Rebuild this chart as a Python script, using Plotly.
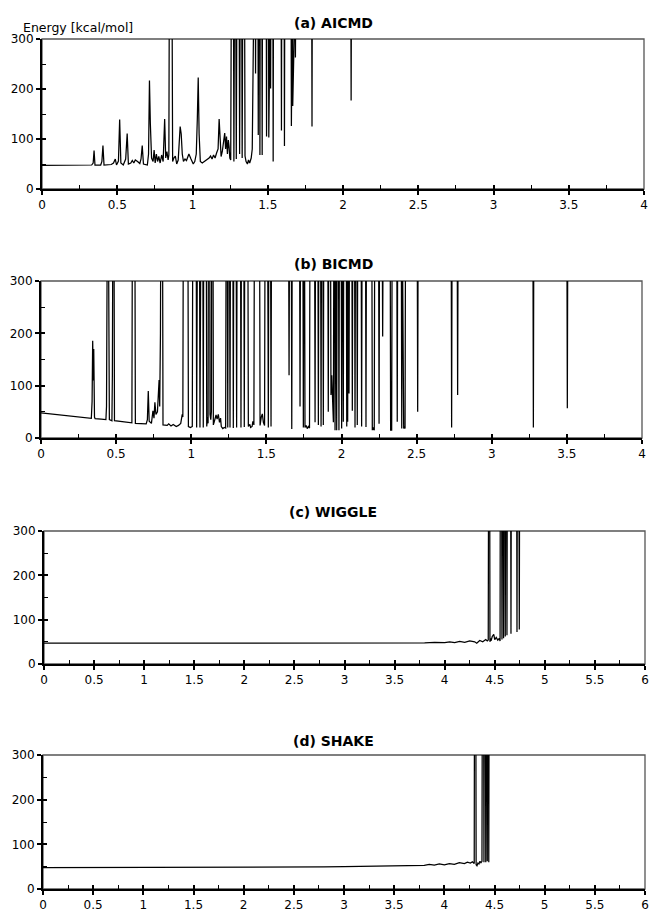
import plotly.graph_objects as go

# ---------------- data ----------------
# (a) AICMD : time [ps] vs energy [kcal/mol]; values above 300 run off the chart
a_time = [
    0, 0.30, 0.33, 0.340, 0.346, 0.352, 0.39, 0.398, 0.405, 0.412,
    0.46, 0.475, 0.487, 0.495, 0.508, 0.516, 0.524, 0.54, 0.556, 0.566,
    0.574, 0.59, 0.60, 0.61, 0.62, 0.635, 0.65, 0.658, 0.666, 0.674,
    0.70, 0.708, 0.714, 0.720, 0.728, 0.738, 0.745, 0.752, 0.760, 0.768,
    0.776, 0.785, 0.795, 0.805, 0.815, 0.822, 0.830, 0.838, 0.843, 0.846,
    0.864, 0.868, 0.876, 0.886, 0.895, 0.905, 0.912, 0.918, 0.925, 0.932,
    0.94, 0.95, 0.96, 0.968, 0.976, 0.99, 1.005, 1.015, 1.025, 1.032,
    1.038, 1.044, 1.052, 1.065, 1.08, 1.095, 1.11, 1.12, 1.13, 1.14,
    1.15, 1.16, 1.17, 1.177, 1.184, 1.19, 1.198, 1.206, 1.214, 1.22,
    1.226, 1.232, 1.238, 1.243, 1.248, 1.254, 1.258, 1.272, 1.275, 1.279,
    1.287, 1.291, 1.295, 1.31, 1.313, 1.317, 1.327, 1.330, 1.334, 1.346,
    1.349, 1.356, 1.365, 1.372, 1.38, 1.39, 1.397, 1.408, 1.417, 1.419,
    1.421, 1.435, 1.437, 1.439, 1.446, 1.448, 1.450, 1.461, 1.463, 1.465,
    1.490, 1.492, 1.494, 1.505, 1.507, 1.509, 1.517, 1.519, 1.521, 1.534,
    1.536, 1.538, 1.589, 1.591, 1.593, 1.609, 1.611, 1.613, 1.655, 1.657,
    1.659, 1.664, 1.666, 1.668, 1.682, 1.684, 1.686, 1.792, 1.794, 1.796,
    2.052, 2.054, 2.056,
]
a_energy = [
    47, 47, 48, 52, 77, 48, 48, 55, 87, 48,
    49, 52, 60, 48, 56, 139, 52, 48, 60, 111,
    50, 52, 57, 52, 58, 55, 51, 60, 87, 50,
    48, 70, 217, 130, 62, 55, 78, 52, 70, 55,
    65, 52, 68, 55, 140, 62, 75, 58, 68, 400,
    400, 55, 62, 66, 50, 58, 95, 125, 110, 70,
    55, 60, 57, 65, 70, 60, 50, 55, 70, 140,
    223, 110, 55, 52, 55, 58, 62, 66, 60, 68,
    62, 72, 80, 140, 85, 65, 75, 92, 112, 80,
    105, 70, 98, 85, 62, 58, 400, 400, 55, 400,
    400, 60, 400, 400, 70, 400, 400, 62, 400, 400,
    66, 55, 50, 58, 52, 62, 80, 400, 400, 231,
    400, 400, 108, 400, 400, 68, 400, 400, 68, 400,
    400, 105, 400, 400, 103, 400, 400, 201, 400, 400,
    55, 400, 400, 117, 400, 400, 86, 400, 400, 126,
    400, 400, 166, 400, 400, 263, 400, 400, 125, 400,
    400, 177, 400,
]

# (b) BICMD
b_time = [
    0, 0.10, 0.20, 0.30, 0.335, 0.340, 0.344, 0.348, 0.351, 0.356,
    0.36, 0.40, 0.432, 0.436, 0.438, 0.441, 0.449, 0.452, 0.455, 0.472,
    0.475, 0.478, 0.486, 0.489, 0.55, 0.605, 0.608, 0.625, 0.628, 0.70,
    0.708, 0.714, 0.72, 0.735, 0.745, 0.752, 0.758, 0.765, 0.775, 0.782,
    0.786, 0.79, 0.795, 0.797, 0.809, 0.812, 0.84, 0.85, 0.865, 0.88,
    0.90, 0.915, 0.93, 0.94, 0.944, 0.947, 0.978, 0.981, 0.995, 1.007,
    1.010, 1.033, 1.036, 1.038, 1.041, 1.055, 1.058, 1.061, 1.064, 1.077,
    1.080, 1.083, 1.100, 1.103, 1.108, 1.112, 1.114, 1.123, 1.125, 1.13,
    1.134, 1.136, 1.145, 1.147, 1.152, 1.158, 1.165, 1.172, 1.18, 1.188,
    1.195, 1.20, 1.21, 1.22, 1.229, 1.232, 1.240, 1.243, 1.246, 1.255,
    1.258, 1.261, 1.277, 1.280, 1.283, 1.299, 1.302, 1.305, 1.328, 1.331,
    1.334, 1.350, 1.353, 1.356, 1.377, 1.380, 1.39, 1.395, 1.405, 1.41,
    1.417, 1.420, 1.455, 1.458, 1.466, 1.473, 1.48, 1.488, 1.491, 1.508,
    1.511, 1.513, 1.516, 1.528, 1.531, 1.534, 1.648, 1.651, 1.654, 1.666,
    1.669, 1.672, 1.721, 1.724, 1.727, 1.743, 1.746, 1.749, 1.754, 1.757,
    1.765, 1.772, 1.78, 1.787, 1.790, 1.821, 1.824, 1.827, 1.843, 1.846,
    1.849, 1.861, 1.864, 1.867, 1.876, 1.879, 1.882, 1.909, 1.912, 1.915,
    1.927, 1.930, 1.935, 1.94, 1.946, 1.949, 1.954, 1.957, 1.960, 1.965,
    1.968, 1.971, 1.980, 1.983, 1.986, 1.998, 2.001, 2.004, 2.009, 2.012,
    2.015, 2.032, 2.035, 2.038, 2.041, 2.044, 2.047, 2.050, 2.053, 2.069,
    2.072, 2.075, 2.087, 2.090, 2.093, 2.102, 2.105, 2.108, 2.131, 2.134,
    2.137, 2.160, 2.163, 2.166, 2.202, 2.205, 2.210, 2.214, 2.218, 2.221,
    2.247, 2.250, 2.253, 2.271, 2.274, 2.277, 2.324, 2.327, 2.331, 2.334,
    2.337, 2.368, 2.371, 2.374, 2.398, 2.401, 2.405, 2.410, 2.414, 2.418,
    2.423, 2.426, 2.504, 2.507, 2.510, 2.730, 2.733, 2.736, 2.770, 2.773,
    2.776, 3.274, 3.277, 3.280, 3.500, 3.503, 3.506,
]
b_energy = [
    48, 45, 42, 38.5, 37.5, 70, 186, 110, 170, 40,
    37, 36, 35, 60, 200, 400, 400, 230, 35, 33,
    120, 400, 400, 33, 31, 29, 400, 400, 28, 27,
    35, 90, 32, 28, 52, 38, 68, 45, 50, 90,
    111, 60, 200, 400, 400, 25, 24, 27, 23, 26,
    22, 24, 28, 45, 40, 400, 400, 22, 20, 22,
    400, 400, 20, 222, 400, 400, 20, 215, 400, 400,
    20, 400, 400, 22, 40, 28, 400, 400, 45, 35,
    50, 400, 400, 25, 30, 40, 44, 36, 45, 30,
    38, 22, 18, 20, 19, 400, 400, 20, 400, 400,
    20, 400, 400, 19, 400, 400, 20, 400, 400, 20,
    400, 400, 21, 400, 400, 22, 26, 20, 22, 32,
    25, 400, 400, 24, 40, 46, 30, 24, 400, 400,
    210, 20, 400, 400, 22, 400, 400, 120, 400, 400,
    17, 400, 400, 60, 400, 400, 20, 400, 400, 20,
    24, 18, 22, 19, 400, 400, 30, 400, 400, 25,
    400, 400, 22, 400, 400, 25, 400, 400, 50, 400,
    400, 82, 120, 60, 30, 400, 400, 15, 400, 400,
    15, 400, 400, 15, 400, 400, 18, 400, 400, 31,
    400, 400, 22, 400, 31, 400, 400, 85, 400, 400,
    52, 400, 400, 20, 400, 400, 25, 400, 400, 22,
    400, 400, 21, 400, 400, 15, 20, 16, 15, 400,
    400, 27, 400, 400, 194, 400, 400, 14, 18, 14,
    400, 400, 31, 400, 400, 18, 400, 150, 18, 22,
    18, 400, 400, 50, 400, 400, 20, 400, 400, 82,
    400, 400, 20, 400, 400, 57, 400,
]

# (c) WIGGLE
c_time = [
    0, 3.2, 3.3, 3.4, 3.5, 3.6, 3.7, 3.8, 3.9, 4.0,
    4.05, 4.1, 4.15, 4.2, 4.25, 4.3, 4.32, 4.35, 4.38, 4.41,
    4.425, 4.435, 4.438, 4.450, 4.452, 4.458, 4.463, 4.475, 4.49, 4.50,
    4.515, 4.53, 4.545, 4.553, 4.555, 4.569, 4.572, 4.575, 4.585, 4.588,
    4.591, 4.602, 4.605, 4.608, 4.619, 4.622, 4.625, 4.659, 4.662, 4.665,
    4.719, 4.722, 4.725, 4.742, 4.745, 4.748,
]
c_energy = [
    47, 47, 47.5, 47, 48, 47.5, 48.5, 47.5, 49, 48,
    50, 48, 51, 49, 52, 50, 47, 53, 50, 55,
    52, 54, 400, 400, 50, 58, 52, 62, 67, 55,
    60, 54, 58, 52, 400, 400, 55, 400, 400, 58,
    400, 400, 62, 400, 400, 65, 400, 400, 68, 400,
    400, 72, 400, 400, 78, 400,
]

# (d) SHAKE
d_time = [
    0, 1.8, 1.85, 2.8, 3.0, 3.2, 3.4, 3.5, 3.6, 3.7,
    3.8, 3.85, 3.9, 3.95, 4.0, 4.05, 4.1, 4.15, 4.2, 4.23,
    4.26, 4.28, 4.298, 4.300, 4.314, 4.317, 4.325, 4.335, 4.345, 4.355,
    4.365, 4.375, 4.378, 4.392, 4.395, 4.398, 4.410, 4.413, 4.416, 4.425,
    4.428, 4.431, 4.440, 4.443, 4.446,
]
d_energy = [
    48, 48, 49, 49.5, 50, 50.5, 51, 51.5, 52, 52.5,
    53, 55, 53.5, 56, 54, 57, 55, 59, 57, 60,
    58, 61, 57, 400, 400, 54, 52, 58, 56, 62,
    59, 62, 400, 400, 60, 400, 400, 60, 400, 400,
    62, 400, 400, 60, 400,
]

# ticks and texts
ab_xticks = [0, 0.5, 1, 1.5, 2, 2.5, 3, 3.5, 4]
ab_xlabels = ["0", "0.5", "1", "1.5", "2", "2.5", "3", "3.5", "4"]
ab_xminor = [0.25, 0.75, 1.25, 1.75, 2.25, 2.75, 3.25, 3.75]
cd_xticks = [0, 0.5, 1, 1.5, 2, 2.5, 3, 3.5, 4, 4.5, 5, 5.5, 6]
cd_xlabels = ["0", "0.5", "1", "1.5", "2", "2.5", "3", "3.5", "4", "4.5", "5", "5.5", "6"]
cd_xminor = [0.25, 0.75, 1.25, 1.75, 2.25, 2.75, 3.25, 3.75, 4.25, 4.75, 5.25, 5.75]
y_ticks = [0, 100, 200, 300]
y_labels = ["0", "100", "200", "300"]
y_minor = [50, 150, 250]
titles = ["(a) AICMD", "(b) BICMD", "(c) WIGGLE", "(d) SHAKE"]
y_title = "Energy [kcal/mol]"

for t, e in [(a_time, a_energy), (b_time, b_energy), (c_time, c_energy), (d_time, d_energy)]:
    assert len(t) == len(e)

# ---------------- layout ----------------
W, H = 650, 913
FONT = "DejaVu Sans"

panels = [
    (a_time, a_energy, ab_xticks, ab_xlabels, ab_xminor, 4, (42, 644, 39, 189), 23),
    (b_time, b_energy, ab_xticks, ab_xlabels, ab_xminor, 4, (41, 642, 281, 438), 264),
    (c_time, c_energy, cd_xticks, cd_xlabels, cd_xminor, 6, (44, 645, 531, 664), 512),
    (d_time, d_energy, cd_xticks, cd_xlabels, cd_xminor, 6, (43, 645, 755, 889), 741),
]

fig = go.Figure()
layout = {}
shapes = []
annotations = []

for i, (tx, ey, xt, xl, xm, xmax, box, ty) in enumerate(panels):
    n = i + 1
    o = n + 4
    sfx = "" if n == 1 else str(n)
    xr, yr = "x" + sfx, "y" + sfx
    x0, x1, y0, y1 = box
    dx = [x0 / W, x1 / W]
    dy = [1 - y1 / H, 1 - y0 / H]

    fig.add_trace(go.Scatter(
        x=tx, y=ey, mode="lines", line=dict(color="black", width=1.25),
        xaxis=xr, yaxis=yr, showlegend=False, hoverinfo="skip"))
    fig.add_trace(go.Scatter(
        x=[], y=[], mode="lines", xaxis=f"x{o}", yaxis=f"y{o}",
        showlegend=False, hoverinfo="skip"))

    tickfont = dict(family=FONT, size=12, color="black")
    layout["xaxis" + sfx] = dict(
        domain=dx, anchor=yr, range=[0, xmax], automargin=False,
        tickmode="array", tickvals=xt, ticktext=xl,
        ticks="outside", ticklen=4, tickwidth=1.5, tickcolor="black",
        minor=dict(tickmode="array", tickvals=xm, ticks="inside",
                   ticklen=4, tickwidth=1.2, tickcolor="black"),
        showline=True, linewidth=2, linecolor="black",
        showgrid=False, zeroline=False, tickfont=tickfont, fixedrange=True)
    layout["yaxis" + sfx] = dict(
        domain=dy, anchor=xr, range=[0, 300], automargin=False,
        tickmode="array", tickvals=y_ticks, ticktext=y_labels,
        ticks="outside", ticklen=4, tickwidth=1.5, tickcolor="black",
        minor=dict(tickmode="array", tickvals=y_minor, ticks="inside",
                   ticklen=4, tickwidth=1.2, tickcolor="black"),
        showline=True, linewidth=2, linecolor="black",
        showgrid=False, zeroline=False, tickfont=tickfont, fixedrange=True)
    # overlay axes give the inner half of the crossing major ticks
    layout[f"xaxis{o}"] = dict(
        overlaying=xr, anchor=f"y{o}", range=[0, xmax], automargin=False,
        tickmode="array", tickvals=xt, ticks="inside", ticklen=4,
        tickwidth=1.5, tickcolor="black", showticklabels=False,
        showline=False, showgrid=False, zeroline=False, fixedrange=True)
    layout[f"yaxis{o}"] = dict(
        overlaying=yr, anchor=f"x{o}", range=[0, 300], automargin=False,
        tickmode="array", tickvals=y_ticks, ticks="inside", ticklen=4,
        tickwidth=1.5, tickcolor="black", showticklabels=False,
        showline=False, showgrid=False, zeroline=False, fixedrange=True)

    shapes.append(dict(type="rect", xref=f"{xr} domain", yref=f"{yr} domain",
                       x0=0, x1=1, y0=0, y1=1, layer="below",
                       line=dict(color="#555555", width=1.3)))
    annotations.append(dict(text=f"<b>{titles[i]}</b>", xref="paper", yref="paper",
                            x=333 / W, y=1 - ty / H, xanchor="center", yanchor="middle",
                            showarrow=False, font=dict(family=FONT, size=14, color="black")))

annotations.append(dict(text=y_title, xref="paper", yref="paper",
                        x=21 / W, y=1 - 27 / H, xanchor="left", yanchor="middle",
                        showarrow=False, font=dict(family=FONT, size=12.5, color="black")))

fig.update_layout(
    template="none",
    width=W, height=H, margin=dict(l=0, r=0, t=0, b=0, autoexpand=False),
    paper_bgcolor="white", plot_bgcolor="white",
    showlegend=False, shapes=shapes, annotations=annotations, **layout)

fig.write_html(
    "out.html",
    config={"displayModeBar": False},
    post_script="document.documentElement.style.margin='0';"
                "document.body.style.margin='0';"
                "document.body.style.overflow='hidden';",
)
